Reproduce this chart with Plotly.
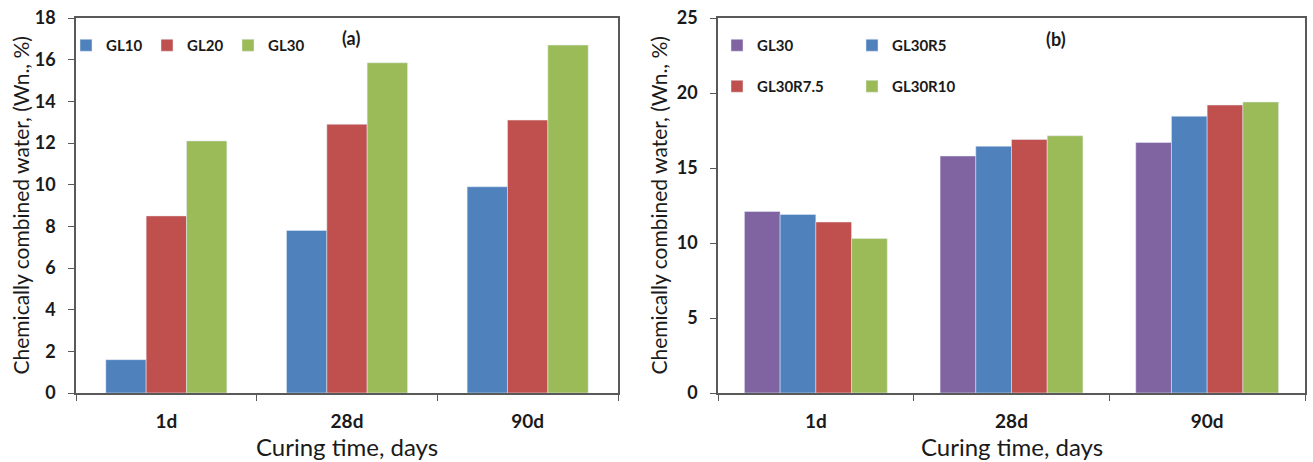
import plotly.graph_objects as go

categories = ["1d", "28d", "90d"]

# Panel (a)
gl10 = [1.6, 7.8, 9.9]
gl20 = [8.5, 12.9, 13.1]
gl30_a = [12.1, 15.85, 16.7]

# Panel (b)
gl30_b = [12.1, 15.8, 16.7]
gl30r5 = [11.9, 16.45, 18.45]
gl30r75 = [11.4, 16.9, 19.2]
gl30r10 = [10.3, 17.15, 19.4]

y_ticks_a = [0, 2, 4, 6, 8, 10, 12, 14, 16, 18]
y_ticks_b = [0, 5, 10, 15, 20, 25]

BLUE = "#4F81BD"
RED = "#C0504D"
GREEN = "#9BBB59"
PURPLE = "#8064A2"

FONT = "Lato"
W, H = 1313, 462

fig = go.Figure()

fig.add_trace(go.Bar(x=categories, y=gl10, name="GL10", marker_color=BLUE, xaxis="x", yaxis="y", legend="legend"))
fig.add_trace(go.Bar(x=categories, y=gl20, name="GL20", marker_color=RED, xaxis="x", yaxis="y", legend="legend"))
fig.add_trace(go.Bar(x=categories, y=gl30_a, name="GL30", marker_color=GREEN, xaxis="x", yaxis="y", legend="legend"))

fig.add_trace(go.Bar(x=categories, y=gl30_b, name="GL30", marker_color=PURPLE, xaxis="x2", yaxis="y2", legend="legend2"))
fig.add_trace(go.Bar(x=categories, y=gl30r5, name="GL30R5", marker_color=BLUE, xaxis="x2", yaxis="y2", legend="legend2"))
fig.add_trace(go.Bar(x=categories, y=gl30r75, name="GL30R7.5", marker_color=RED, xaxis="x2", yaxis="y2", legend="legend3"))
fig.add_trace(go.Bar(x=categories, y=gl30r10, name="GL30R10", marker_color=GREEN, xaxis="x2", yaxis="y2", legend="legend3"))

# Right panel bars: wider (smaller gap)
bw = 0.73 / 4
for i, tr in enumerate(fig.data[3:]):
    tr.width = bw
    tr.offset = -0.365 + i * bw

ydom = [1 - 393 / H, 1 - 18 / H]
xdom_a = [76 / W, 618 / W]
xdom_b = [718 / W, 1305 / W]

axis_line = dict(showline=True, linecolor="#595959", linewidth=1.5, mirror=True, automargin=False)
ytickfont = dict(family=FONT, size=18, color="#1a1a1a", weight="bold")
xtickfont = dict(family=FONT, size=19, color="#1a1a1a", weight="bold")
legfont = dict(family=FONT, size=15, color="#1a1a1a", weight="bold")

xcommon = dict(type="category", tickson="boundaries", ticks="outside", ticklen=6,
               tickcolor="#595959", tickfont=xtickfont, ticklabelstandoff=10,
               showgrid=False, **axis_line)
ycommon = dict(ticks="outside", ticklen=6, tickcolor="#595959", tickfont=ytickfont,
               ticklabelstandoff=9, showgrid=False, zeroline=False, **axis_line)

fig.update_layout(
    width=W, height=H,
    margin=dict(l=0, r=0, t=0, b=0, autoexpand=False),
    paper_bgcolor="white", plot_bgcolor="white",
    barmode="group",
    bargap=0.33,
    font=dict(family=FONT, color="#1a1a1a"),
    xaxis=dict(domain=xdom_a, anchor="y", **xcommon),
    yaxis=dict(domain=ydom, anchor="x", range=[0, 18], tickvals=y_ticks_a, **ycommon),
    xaxis2=dict(domain=xdom_b, anchor="y2", **xcommon),
    yaxis2=dict(domain=ydom, anchor="x2", range=[0, 25], tickvals=y_ticks_b, **ycommon),
    legend=dict(orientation="h", x=66 / W, y=1 - 29 / H, xanchor="left", yanchor="top",
                font=legfont, bgcolor="rgba(0,0,0,0)", entrywidth=36,
                itemwidth=30, traceorder="normal"),
    legend2=dict(orientation="h", x=717 / W, y=1 - 29 / H, xanchor="left", yanchor="top",
                 font=legfont, bgcolor="rgba(0,0,0,0)", entrywidth=90, itemwidth=30),
    legend3=dict(orientation="h", x=717 / W, y=1 - 70 / H, xanchor="left", yanchor="top",
                 font=legfont, bgcolor="rgba(0,0,0,0)", entrywidth=90, itemwidth=30),
)

ann_common = dict(xref="paper", yref="paper", showarrow=False, xanchor="center", yanchor="middle")
annotations = [
    dict(text="(a)", x=351 / W, y=1 - 38 / H, font=dict(family=FONT, size=18, weight="bold"), **ann_common),
    dict(text="(b)", x=1056 / W, y=1 - 39 / H, font=dict(family=FONT, size=18, weight="bold"), **ann_common),
    dict(text="Chemically combined water, (Wn., %)", x=20 / W, y=(ydom[0] + ydom[1]) / 2,
         textangle=-90, font=dict(family=FONT, size=21), **ann_common),
    dict(text="Chemically combined water, (Wn., %)", x=658 / W, y=(ydom[0] + ydom[1]) / 2,
         textangle=-90, font=dict(family=FONT, size=21), **ann_common),
    dict(text="Curing time, days", x=(xdom_a[0] + xdom_a[1]) / 2, y=1 - 446 / H,
         font=dict(family=FONT, size=24), **ann_common),
    dict(text="Curing time, days", x=(xdom_b[0] + xdom_b[1]) / 2, y=1 - 446 / H,
         font=dict(family=FONT, size=24), **ann_common),
]
fig.update_layout(annotations=annotations)

fig.write_html("out.html", config={"displayModeBar": False},
               post_script="document.body.style.margin='0px';document.body.style.overflow='hidden';")
